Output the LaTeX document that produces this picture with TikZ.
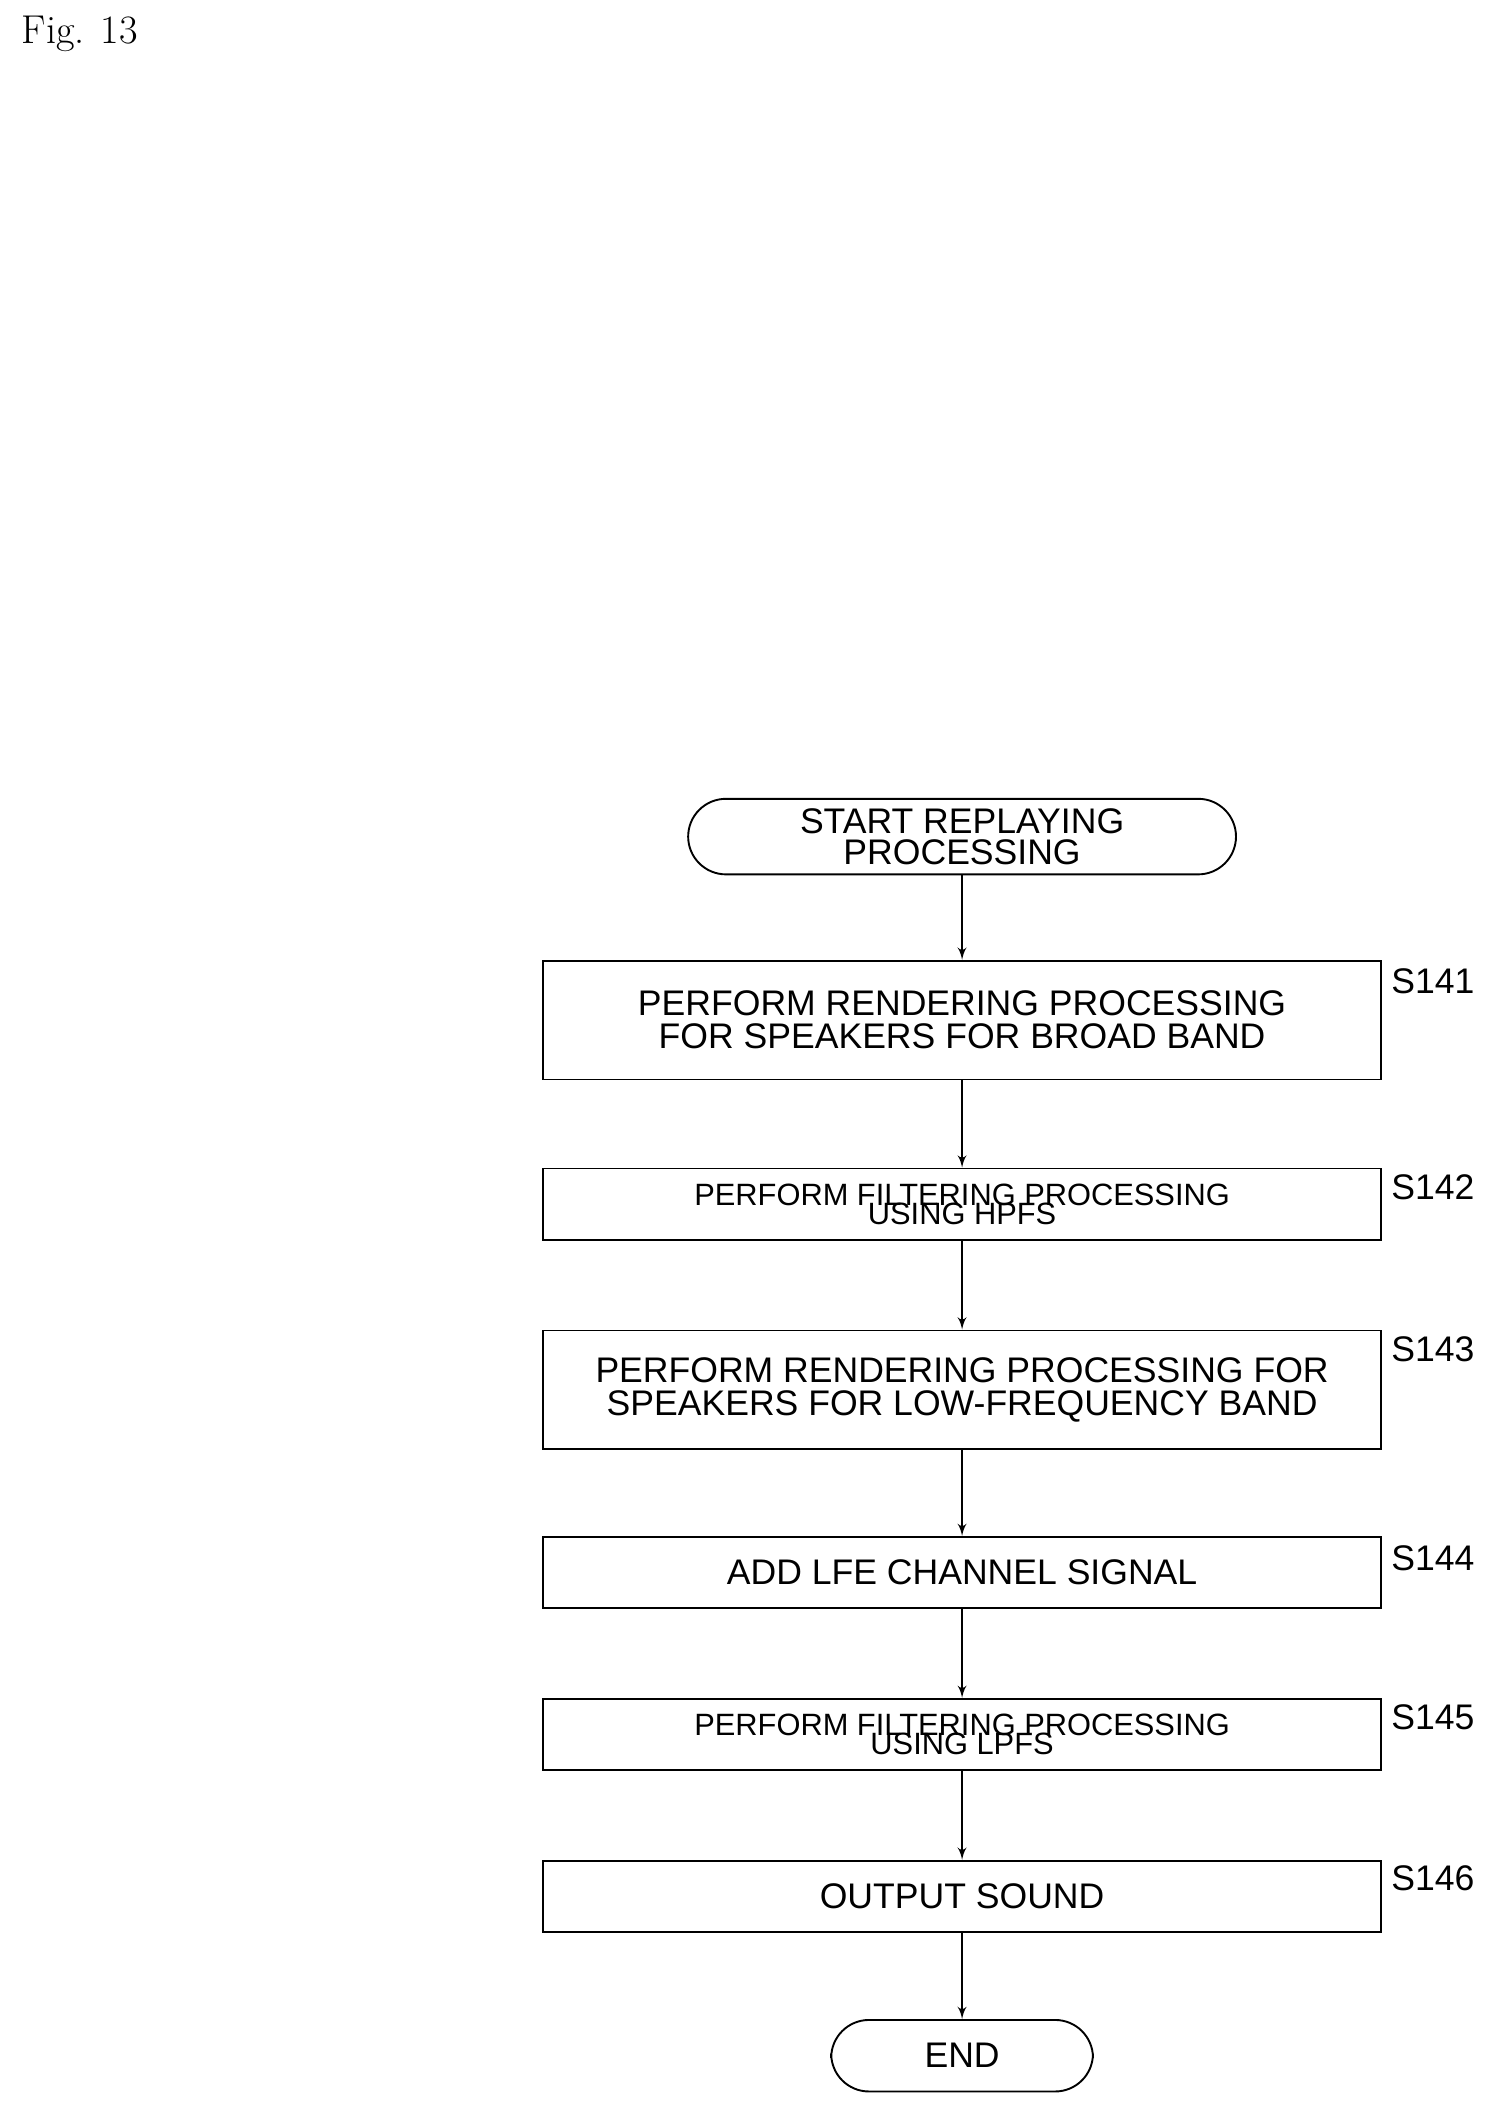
\documentclass[tikz,border=0pt]{standalone}
\usepackage{fontspec}
\setmainfont{Liberation Sans}
\newfontfamily\figfont{Latin Modern Roman}
\usetikzlibrary{shapes,arrows}
\tikzstyle{block} = [rectangle, draw, thick, minimum width=12.42cm, text centered, align=center, font=\fontsize{15}{16}\selectfont]
\tikzstyle{term} = [rectangle, rounded corners=0.56cm, draw, thick, text centered, align=center, font=\fontsize{15}{16}\selectfont]
\tikzstyle{steplabel} = [anchor=west, font=\fontsize{15}{16}\selectfont]
\tikzstyle{line} = [draw, thick, -latex']

\begin{document}
\begin{tikzpicture}
\useasboundingbox (0,0) rectangle (22.2,-31.26);
\node [anchor=west, font=\figfont\fontsize{17}{18}\selectfont] (fig) at (0.2,-0.5) {Fig. 13};
\node [term, minimum width=8.12cm, minimum height=1.12cm] (start) at (14.26,-12.4) {START REPLAYING\\[-3pt]PROCESSING};
\node [block, minimum height=1.76cm] (s141) at (14.26,-15.12) {PERFORM RENDERING PROCESSING\\[-2pt]FOR SPEAKERS FOR BROAD BAND};
\node [block, minimum height=1.06cm, font=\fontsize{13}{13}\selectfont] (s142) at (14.26,-17.85) {PERFORM FILTERING PROCESSING\\[-5pt]USING HPFS};
\node [block, minimum height=1.76cm] (s143) at (14.26,-20.6) {PERFORM RENDERING PROCESSING FOR\\[-2pt]SPEAKERS FOR LOW-FREQUENCY BAND};
\node [block, minimum height=1.06cm] (s144) at (14.26,-23.31) {ADD LFE CHANNEL SIGNAL};
\node [block, minimum height=1.06cm, font=\fontsize{13}{13}\selectfont] (s145) at (14.26,-25.71) {PERFORM FILTERING PROCESSING\\[-5pt]USING LPFS};
\node [block, minimum height=1.06cm] (s146) at (14.26,-28.11) {OUTPUT SOUND};
\node [term, minimum width=3.88cm, minimum height=1.06cm] (end) at (14.26,-30.47) {END};
\path [line] (start) -- (s141);
\path [line] (s141) -- (s142);
\path [line] (s142) -- (s143);
\path [line] (s143) -- (s144);
\path [line] (s144) -- (s145);
\path [line] (s145) -- (s146);
\path [line] (s146) -- (end);
\node [steplabel] (l141) at (20.5,-14.54) {S141};
\node [steplabel] (l142) at (20.5,-17.6) {S142};
\node [steplabel] (l143) at (20.5,-20.0) {S143};
\node [steplabel] (l144) at (20.5,-23.1) {S144};
\node [steplabel] (l145) at (20.5,-25.46) {S145};
\node [steplabel] (l146) at (20.5,-27.84) {S146};
\end{tikzpicture}
\end{document}
